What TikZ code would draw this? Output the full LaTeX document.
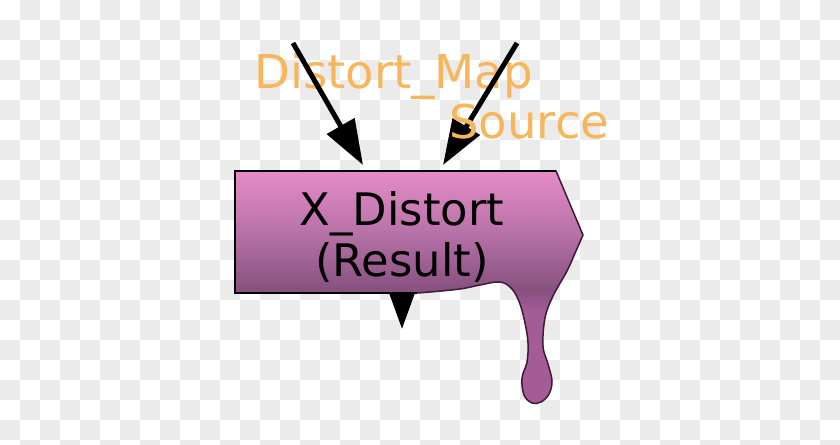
\documentclass[tikz,border=0pt]{standalone}
\usepackage{fontspec}
\setmainfont{DejaVu Sans}
\usetikzlibrary{arrows.meta}
\definecolor{labelorange}{HTML}{F8B65C}
\definecolor{checkgray}{HTML}{EBEBEB}
\definecolor{boxtop}{HTML}{E58CC8}
\definecolor{boxmid}{HTML}{B872A8}
\definecolor{boxlow}{HTML}{87507F}
\definecolor{dripcol}{HTML}{A35C96}
\definecolor{dripedge}{HTML}{3E1A38}
\pgfdeclareverticalshading{boxshade}{100bp}{color(0bp)=(dripcol); color(25bp)=(dripcol); color(45bp)=(dripcol); color(49.5bp)=(boxlow); color(62bp)=(boxmid); color(75bp)=(boxtop); color(100bp)=(boxtop)}

\begin{document}
\begin{tikzpicture}[x=0.02cm,y=-0.02cm,
  flow/.style={line width=0.1cm,-{Triangle[length=0.9cm,width=0.62cm]}},
  portlabel/.style={labelorange,anchor=base west,inner sep=0pt,font=\fontsize{26.5}{30}\selectfont}]
\useasboundingbox (0,0) rectangle (840,444);
\fill[white] (0,0) rectangle (840,444);
\begin{scope}
\clip (0,0) rectangle (840,444);
\foreach \i in {0,2,...,40}
  \foreach \j in {1,3,...,23}{
    \fill[checkgray] (20*\i,20*\j) rectangle ++(20,20);
    \fill[checkgray] (20*\i+20,20*\j-20) rectangle ++(20,20);
  }
\end{scope}

\coordinate (outtail) at (402,260);
\coordinate (outtip) at (402,329);
\draw[flow] (outtail) -- (outtip);

% the box with its drip
\shadedraw[shading=boxshade,draw=dripedge,line width=0.03cm]
  (235,171) -- (556,171) -- (583,235)
  -- plot[smooth,tension=0.6] coordinates {(583,235) (576,251) (567,271) (553,296) (545,318) (543,346) (548,364) (552,381) (549,394) (541,402) (532,403) (524,395) (522,378) (527,362) (528,343) (525,323) (520,304) (512,289) (500,282) (480,285) (460,289) (430,292) (417,293)}
  -- (235,293) -- cycle;
\draw[line width=0.04cm] (417,293) -- (235,293) -- (235,171) -- (556,171);

\node[font=\fontsize{25.5}{29.5}\selectfont,align=center,inner sep=0pt] (distort) at (402,237) {X\_Distort\\(Result)};

\node[portlabel] (maplabel) at (254,88) {Distort\_Map};

\coordinate (maptail) at (293,43);
\coordinate (maptip) at (363,165);
\coordinate (srctail) at (517,43);
\coordinate (srctip) at (443,165);
\draw[flow] (maptail) -- (maptip);
\draw[flow] (srctail) -- (srctip);

\node[portlabel] (srclabel) at (449,138) {Source};
\end{tikzpicture}
\end{document}
